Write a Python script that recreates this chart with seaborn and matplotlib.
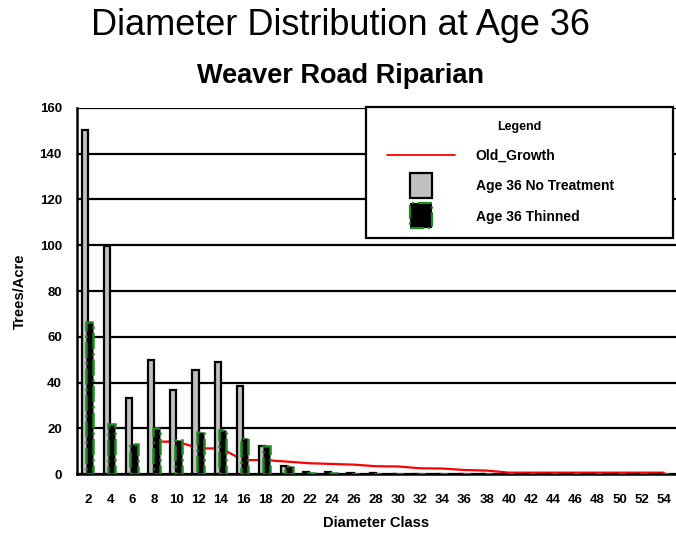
import numpy as np
import pandas as pd
import matplotlib
matplotlib.use('Agg')
import matplotlib.pyplot as plt
import seaborn as sns
from matplotlib.patches import Patch, Rectangle
from matplotlib.lines import Line2D
from matplotlib.legend_handler import HandlerBase

# diameter classes and values
diameter_class = [2, 4, 6, 8, 10, 12, 14, 16, 18, 20, 22, 24, 26, 28, 30,
                  32, 34, 36, 38, 40, 42, 44, 46, 48, 50, 52, 54]
no_treatment = [150.4, 99.8, 33.4, 50.0, 36.9, 45.6, 49.1, 38.6, 12.4, 3.6, 1.0, 1.0, 0.5, 0.5, 0,
                0, 0, 0, 0, 0, 0, 0, 0, 0, 0, 0, 0]
thinned = [66.3, 21.7, 13.0, 20.0, 14.7, 18.2, 19.1, 15.6, 12.1, 3.4, 0.5, 0.6, 0.2, 0.2, 0,
           0, 0, 0, 0, 0, 0, 0, 0, 0, 0, 0, 0]
old_growth_class = [8, 10, 12, 14, 16, 18, 20, 22, 24, 26, 28, 30, 32, 34, 36, 38,
                    40, 42, 44, 46, 48, 50, 52, 54]
old_growth = [14.1, 14.2, 11.2, 11.2, 6.1, 6.1, 5.4, 4.7, 4.4, 4.1, 3.4, 3.3, 2.5, 2.4, 1.75, 1.5,
              0.6, 0.6, 0.6, 0.6, 0.6, 0.6, 0.6, 0.6]

labels = [str(c) for c in diameter_class]
df_nt = pd.DataFrame({'cls': labels, 'val': no_treatment})
df_th = pd.DataFrame({'cls': labels, 'val': thinned})
df_og = pd.DataFrame({'pos': [diameter_class.index(c) for c in old_growth_class], 'val': old_growth})

GREEN = '#1a8a1a'


class LineHandler(HandlerBase):
    # red line that starts a bit inside the handle box
    def create_artists(self, legend, orig_handle, xdescent, ydescent, width, height, fontsize, trans):
        y = height / 2 - ydescent
        ln = Line2D([-xdescent + 5, -xdescent + width], [y, y], color='red', linewidth=1.3)
        ln.set_transform(trans)
        return [ln]


class SquareHandler(HandlerBase):
    # small square swatch, not stretched over the whole handle box
    def create_artists(self, legend, orig_handle, xdescent, ydescent, width, height, fontsize, trans):
        w, h = 15.8, 18
        r = Rectangle((-xdescent + 21.6, -ydescent + (height - h) / 2), w, h,
                      facecolor=orig_handle.get_facecolor(), edgecolor=orig_handle.get_edgecolor(),
                      linewidth=orig_handle.get_linewidth(), linestyle=orig_handle.get_linestyle())
        r.set_transform(trans)
        return [r]


sns.set_theme(style='white')
plt.rcParams['font.family'] = ['Liberation Sans', 'DejaVu Sans']
plt.rcParams['text.color'] = 'black'
plt.rcParams['axes.labelcolor'] = 'black'
plt.rcParams['xtick.color'] = 'black'
plt.rcParams['ytick.color'] = 'black'

fig = plt.figure(figsize=(6.76, 5.37), dpi=100)
ax = fig.add_axes([0.114, 0.1173, 0.886, 0.6816])

# old growth line goes behind the bars
sns.lineplot(data=df_og, x='pos', y='val', color='red', linewidth=1.6, ax=ax, zorder=2)

sns.barplot(data=df_nt, x='cls', y='val', order=labels, color='#c0c0c0', edgecolor='black',
            linewidth=1.6, width=0.28, saturation=1, ax=ax, zorder=3)
n1 = len(ax.patches)
sns.barplot(data=df_th, x='cls', y='val', order=labels, color='black', edgecolor=GREEN,
            linewidth=1.8, width=0.32, saturation=1, ax=ax, zorder=4)

# nudge the bars: gray a bit left, thinned a bit right (they overlap)
for i, p in enumerate(ax.patches):
    if i < n1:
        p.set_x(p.get_x() - 0.15)
    else:
        p.set_x(p.get_x() + 0.07)
        p.set_linestyle('-.')

ax.set_xlim(-0.5, len(labels) - 0.45)
ax.set_ylim(0, 160)
ax.set_yticks(range(0, 161, 20))
ax.yaxis.grid(True, color='black', linewidth=1.6)
ax.set_axisbelow(True)
for s in ['top', 'right']:
    ax.spines[s].set_visible(False)
ax.spines['left'].set_color('black')
ax.spines['left'].set_linewidth(1.8)
ax.spines['bottom'].set_color('black')
ax.spines['bottom'].set_linewidth(1.8)
ax.tick_params(axis='y', direction='out', length=8, width=1.6, color='black', labelsize=9.5, pad=3)
ax.tick_params(axis='x', direction='out', length=6.5, width=1.6, color='black', labelsize=9.5, pad=8)
for t in ax.get_xticklabels() + ax.get_yticklabels():
    t.set_fontweight('bold')

ax.set_xlabel('Diameter Class', fontsize=10.5, fontweight='bold', labelpad=7)
ax.set_ylabel('Trees/Acre', fontsize=10.5, fontweight='bold', labelpad=9)

fig.text(0.503, 0.952, 'Diameter Distribution at Age 36', fontsize=26, ha='center', va='center')
fig.text(0.503, 0.858, 'Weaver Road Riparian', fontsize=19.5, fontweight='bold', ha='center', va='center')

h_line = Line2D([0], [0], color='red')
h_nt = Patch(facecolor='#c0c0c0', edgecolor='black', linewidth=1.6)
h_th = Patch(facecolor='black', edgecolor=GREEN, linewidth=1.6, linestyle='-.')
leg = ax.legend([h_line, h_nt, h_th], ['Old_Growth', 'Age 36 No Treatment', 'Age 36 Thinned'],
                handler_map={Line2D: LineHandler(), Patch: SquareHandler()},
                title='Legend', loc='upper left', bbox_to_anchor=(0.4825, 1.003, 0.5125, 0),
                mode='expand', fancybox=False, framealpha=1, edgecolor='black', fontsize=10,
                title_fontproperties={'weight': 'bold', 'size': 9},
                handlelength=5.4, handleheight=1.5, labelspacing=0.98,
                borderpad=1.0, handletextpad=1.5, borderaxespad=0)
leg.get_frame().set_linewidth(1.6)
for t in leg.get_texts():
    t.set_fontweight('bold')

fig.savefig('out.png', dpi=100)
